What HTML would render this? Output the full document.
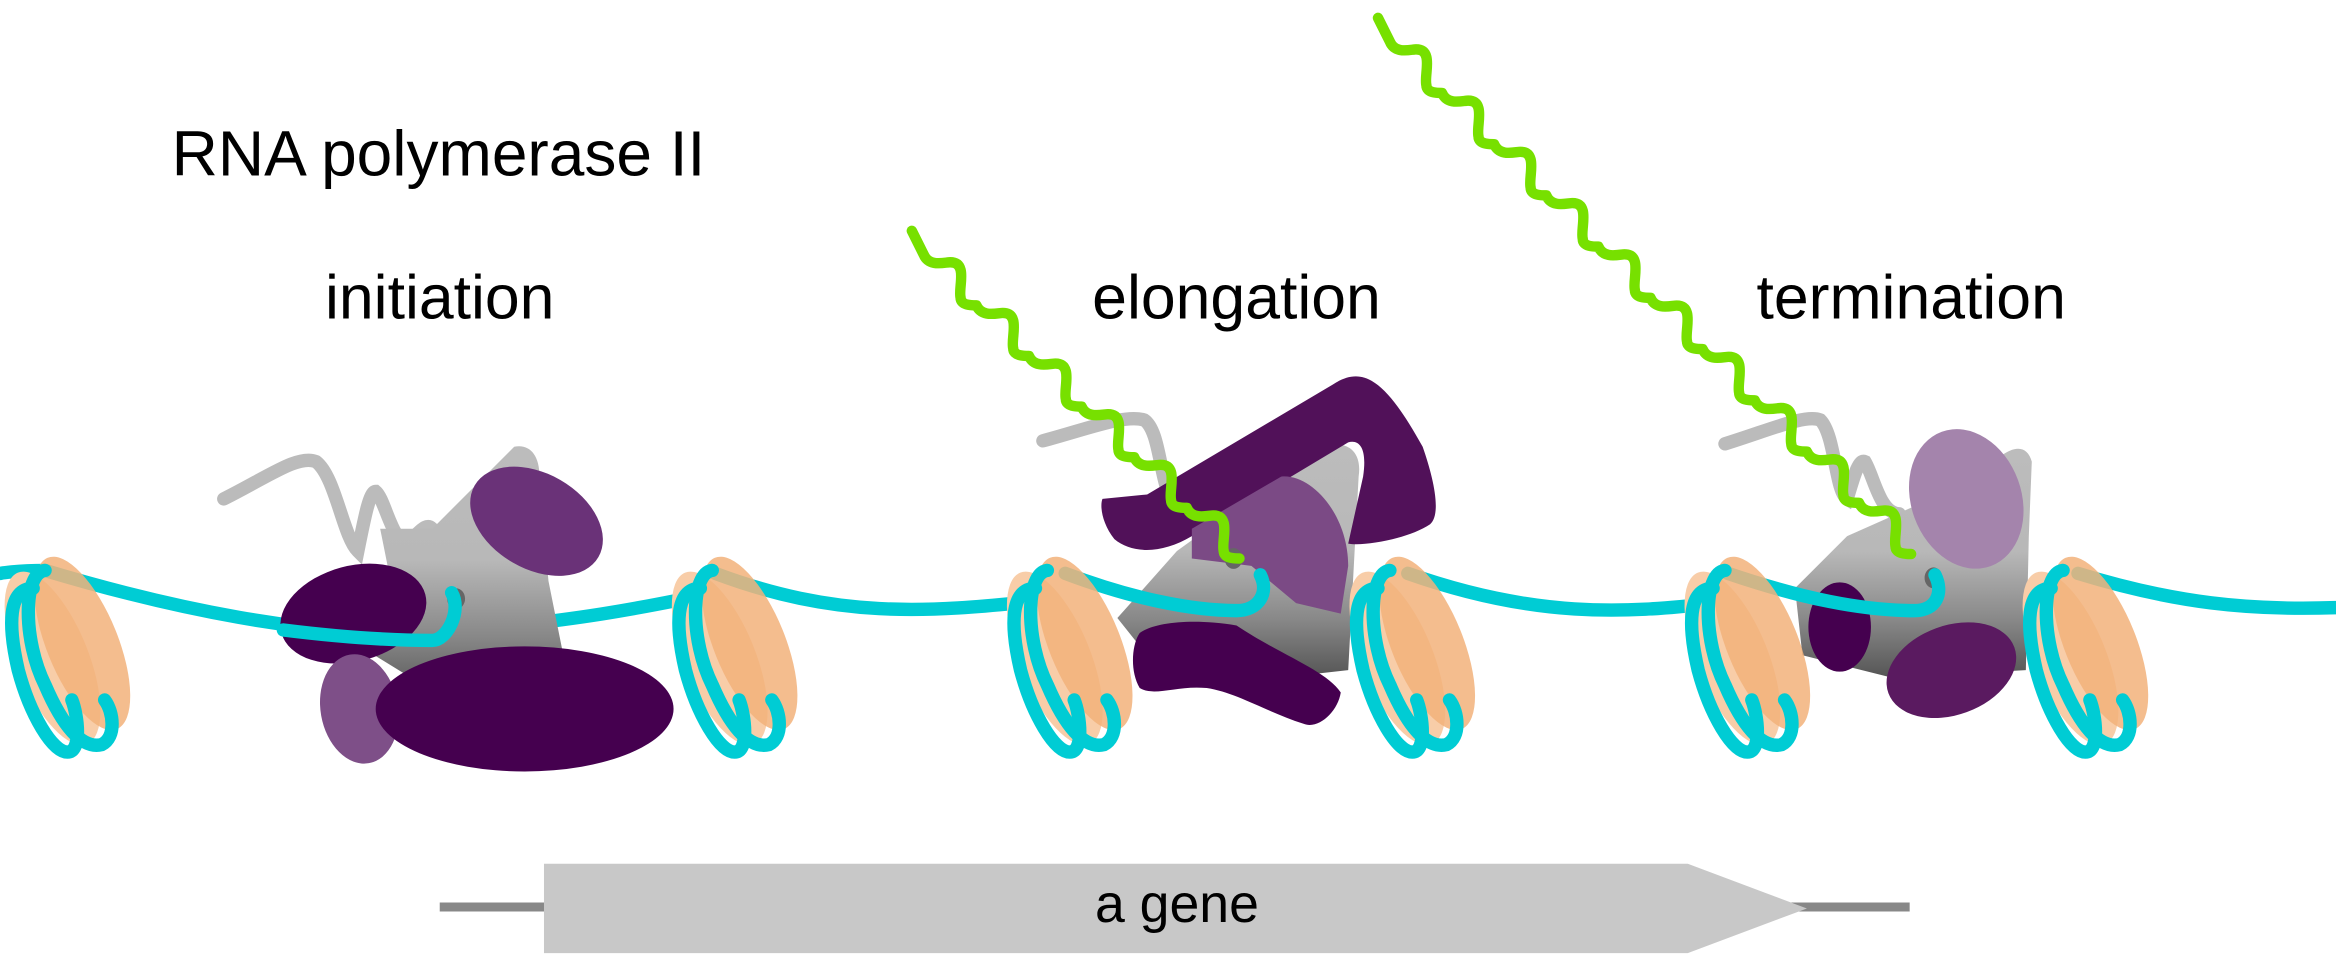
<!DOCTYPE html>
<html><head><meta charset="utf-8"><style>
html,body{margin:0;padding:0;background:#fff;overflow:hidden}
svg{display:block}
text{font-family:"Liberation Sans",sans-serif;fill:#000}
</style></head><body>
<svg id="fig" width="2336" height="974" viewBox="0 0 1568 654" xmlns="http://www.w3.org/2000/svg">
<defs>
<linearGradient id="gbody" x1="0" y1="0" x2="0" y2="1">
<stop offset="0" stop-color="#bcbcbc"/><stop offset="0.45" stop-color="#b8b8b8"/><stop offset="0.75" stop-color="#888"/><stop offset="1" stop-color="#555"/>
</linearGradient>
<g id="nuc">
<ellipse cx="35" cy="442" rx="24" ry="62" transform="rotate(-22 35 442)" fill="#f8cda8"/>
<ellipse cx="55" cy="432" rx="24" ry="62" transform="rotate(-22 55 432)" fill="#f2b27a" opacity="0.85"/>
<path d="M22 395 C5 395 5 420 12 450 C20 480 35 505 45 505 C55 505 52 480 48 470" fill="none" stroke="#00ccd4" stroke-width="9" stroke-linecap="round"/>
<path d="M30 383 C15 385 15 430 30 460 C42 488 55 503 68 500 C78 495 76 478 70 470" fill="none" stroke="#00ccd4" stroke-width="9" stroke-linecap="round"/>
</g>
</defs>

<text x="115" y="118" font-size="43">RNA polymerase II</text>
<text x="295" y="214" font-size="42" text-anchor="middle">initiation</text>
<text x="830" y="214" font-size="42" text-anchor="middle">elongation</text>
<text x="1283" y="214" font-size="42" text-anchor="middle">termination</text>

<g fill="none" stroke="#00ccd4" stroke-width="9" stroke-linecap="round">
<path d="M345 420 C390 415 420 410 455 403"/>
<path d="M0 385 C0 385 10 383 30 383 C120 410 200 425 290 428"/>
<path d="M480 385 C560 415 620 412 700 403"/>
<path d="M945 385 C1030 415 1090 412 1150 405"/>
<path d="M1395 385 C1460 405 1510 410 1568 408"/>
</g>

<g>
<path d="M150 335 C180 320 200 305 212 310 C225 320 230 360 240 370 C245 345 248 330 252 330 C258 335 262 360 272 365 C280 360 285 350 290 355" fill="none" stroke="#bbb" stroke-width="9" stroke-linecap="round"/>
<path d="M255 355 L290 355 L345 300 C355 298 362 305 362 320 L368 390 L378 440 L300 470 L235 430 L260 380 Z" fill="url(#gbody)"/>
<ellipse cx="360" cy="350" rx="48" ry="32" transform="rotate(30 360 350)" fill="#6a3278"/>
<ellipse cx="237" cy="412" rx="50" ry="32" transform="rotate(-15 237 412)" fill="#45004f"/>
<ellipse cx="241" cy="476" rx="26" ry="37" transform="rotate(-10 241 476)" fill="#7e4f88"/>
<ellipse cx="352" cy="476" rx="100" ry="42" fill="#45004f"/>
<ellipse cx="306" cy="402" rx="6" ry="7" fill="#666"/>
<path d="M190 423 C230 428 260 430 290 430 C300 430 310 410 303 398" fill="none" stroke="#00ccd4" stroke-width="9" stroke-linecap="round"/>
</g>

<g>
<path d="M700 296 C730 288 755 278 768 282 C780 290 778 330 790 340" fill="none" stroke="#bbb" stroke-width="9" stroke-linecap="round"/>
<path d="M750 415 L790 370 L880 305 C900 292 915 300 912 320 L905 450 L860 455 L770 440 Z" fill="url(#gbody)"/>
<path d="M740 335 L770 332 L895 258 C915 245 930 255 955 300 C962 320 968 345 960 352 C945 362 915 367 905 365 L915 320 C918 300 912 295 905 297 L800 360 C780 372 760 372 748 362 C740 352 738 340 740 335 Z" fill="#511159"/>
<path d="M800 355 L860 320 C880 318 905 345 905 380 L900 412 L870 405 L840 380 L800 375 Z" fill="#7b4a85"/>
<path d="M765 425 C775 418 800 415 830 420 C860 440 890 450 900 465 C898 478 885 490 875 486 C850 478 830 465 810 462 C790 460 775 468 765 462 C758 450 760 432 765 425 Z" fill="#45004f"/>
<ellipse cx="828" cy="375" rx="6" ry="7" fill="#666"/>
<path d="M715 385 C760 402 800 410 830 410 C845 410 852 398 846 386" fill="none" stroke="#00ccd4" stroke-width="9" stroke-linecap="round"/>
</g>

<g>
<path d="M1158 298 C1190 288 1212 278 1222 282 C1232 292 1232 330 1240 335 C1245 318 1248 308 1252 310 C1258 320 1262 345 1275 345" fill="none" stroke="#bbb" stroke-width="9" stroke-linecap="round"/>
<path d="M1205 395 L1240 360 L1330 320 C1345 300 1360 295 1364 310 L1362 360 L1360 450 L1270 455 L1210 440 Z" fill="url(#gbody)"/>
<ellipse cx="1320" cy="335" rx="37" ry="48" transform="rotate(-20 1320 335)" fill="#a484ac"/>
<ellipse cx="1235" cy="421" rx="21" ry="30" fill="#45004f"/>
<ellipse cx="1310" cy="450" rx="45" ry="30" transform="rotate(-20 1310 450)" fill="#5a1a60"/>
<ellipse cx="1298" cy="388" rx="6" ry="7" fill="#666"/>
<path d="M1160 385 C1210 402 1250 410 1285 410 C1300 410 1305 398 1299 386" fill="none" stroke="#00ccd4" stroke-width="9" stroke-linecap="round"/>
</g>

<g id="nucs"></g>
<g id="rna"></g>

<g>
<line x1="295" y1="609" x2="1282" y2="609" stroke="#888" stroke-width="6"/>
<polygon points="365,580 1133,580 1213,610 1133,640 365,640" fill="#c8c8c8"/>
<text x="790" y="619" font-size="36" text-anchor="middle">a gene</text>
</g>
</svg>
<script>
const nucX = [0, 448, 673, 903, 1128, 1355];
const rnaStarts = [[612,155],[925,12]];
const rnaEnds = [[832,375],[1283,372]];
const rnaSteps = [6, 10];
const NS = 'http://www.w3.org/2000/svg';
const ng = document.getElementById('nucs');
nucX.forEach(x => {
  const u = document.createElementNS(NS, 'use');
  u.setAttribute('href', '#nuc');
  u.setAttribute('x', x);
  
  
  ng.appendChild(u);
});
const rg = document.getElementById('rna');
rnaStarts.forEach((s, i) => {
  let x = s[0] + 8, y = s[1] + 16;
  let d = `M${s[0]} ${s[1]} L${x} ${y}`;
  const n = rnaSteps[i];
  const sx = (rnaEnds[i][0] - x) / n, sy = (rnaEnds[i][1] - y) / n;
  for (let k = 0; k < n; k++) {
    d += ` c${sx*0.1} ${sy*0.25} ${sx*0.4} ${sy*0.15} ${sx*0.5} ${sy*0.15}`;
    d += ` c${sx*0.35} 0 ${sx*0.15} ${sy*0.5} ${sx*0.2} ${sy*0.7}`;
    d += ` c0 ${sy*0.15} ${sx*0.2} ${sy*0.15} ${sx*0.3} ${sy*0.15}`;
  }
  const p = document.createElementNS(NS, 'path');
  p.setAttribute('d', d);
  p.setAttribute('fill', 'none');
  p.setAttribute('stroke', '#77e000');
  p.setAttribute('stroke-width', '7');
  p.setAttribute('stroke-linecap', 'round');
  p.setAttribute('stroke-linejoin', 'round');
  
  
  rg.appendChild(p);
});
</script>
</body></html>
